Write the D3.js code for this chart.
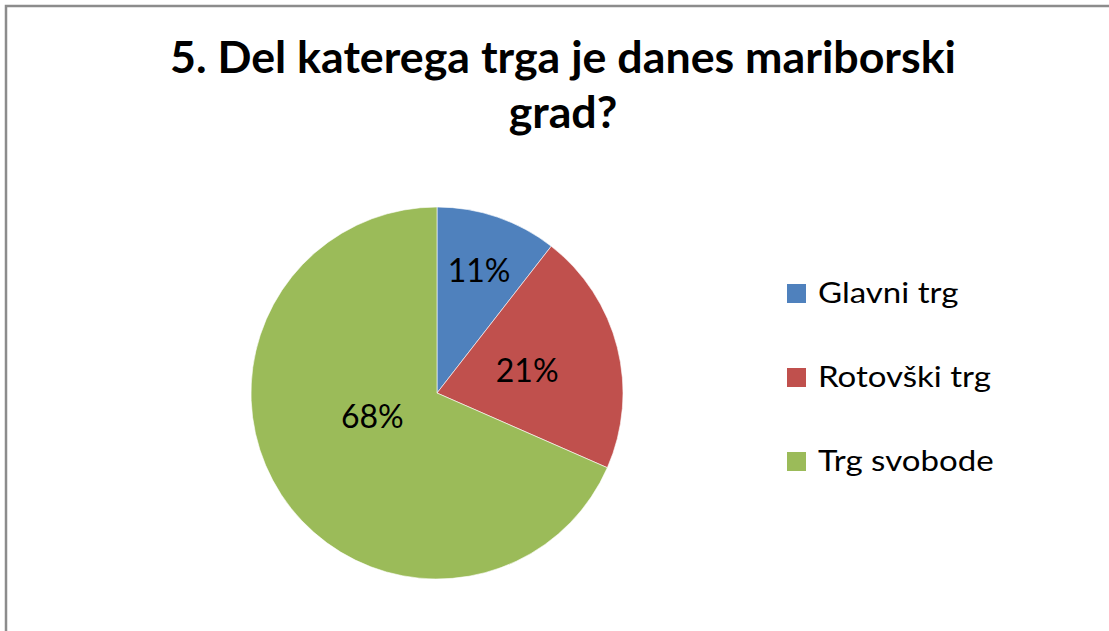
<!DOCTYPE html>
<html>
<head>
<meta charset="utf-8">
<script src="https://d3js.org/d3.v7.min.js"></script>
<style>
  body { margin: 0; background: #fff; }
  svg { display: block; }
</style>
</head>
<body>
<svg></svg>
<script>
// podatki
var categories = ["Glavni trg", "Rotovški trg", "Trg svobode"];
var counts = [6, 12, 39];
var colors = ["#4F81BD", "#C0504D", "#9BBB59"];
var titleLines = ["5. Del katerega trga je danes mariborski", "grad?"];

var width = 1109, height = 631;
var font = "Lato, 'Open Sans', sans-serif";

var svg = d3.select("svg")
  .attr("width", width)
  .attr("height", height);

// okvir
svg.append("rect")
  .attr("x", 6).attr("y", 6)
  .attr("width", width + 20).attr("height", height + 20)
  .attr("fill", "#fff")
  .attr("stroke", "#8c8c8c")
  .attr("stroke-width", 2.5);

// razsiri besedilo vodoravno (Calibri je drugacen od Lato)
function stretch(sel, sx, x) {
  sel.attr("transform", "translate(" + x + ",0) scale(" + sx + ",1) translate(" + (-x) + ",0)");
}

// naslov
var titles = svg.append("g").selectAll("text")
  .data(titleLines)
  .enter().append("text")
  .attr("x", 563)
  .attr("y", function(d, i) { return 73 + i * 55; })
  .attr("text-anchor", "middle")
  .attr("font-family", font)
  .attr("font-weight", "bold")
  .attr("font-size", 43)
  .attr("fill", "#000")
  .text(function(d) { return d; });
var tsx = 786 / titles.node().getComputedTextLength();
stretch(titles, tsx, 563);

// pita
var cx = 437, cy = 393, r = 186;
var total = d3.sum(counts);
var pie = d3.pie().sort(null).value(function(d) { return d; });
var arcs = pie(counts);
var arc = d3.arc().innerRadius(0).outerRadius(r);

var g = svg.append("g").attr("transform", "translate(" + cx + "," + cy + ")");
g.selectAll("path")
  .data(arcs)
  .enter().append("path")
  .attr("d", arc)
  .attr("fill", function(d, i) { return colors[i]; })
  .attr("stroke", "#fff")
  .attr("stroke-width", 0.6);

// oznake - excel jih postavi na razlicne razdalje (best fit)
var labelFactor = [0.697, 0.5, 0.37];
var labelTurn = [0, 0, 13 * Math.PI / 180];
g.selectAll("text")
  .data(arcs)
  .enter().append("text")
  .attr("transform", function(d, i) {
    var a = (d.startAngle + d.endAngle) / 2 + labelTurn[i];
    var lr = r * labelFactor[i];
    return "translate(" + (lr * Math.sin(a)) + "," + (-lr * Math.cos(a) + 11.5) + ")";
  })
  .attr("text-anchor", "middle")
  .attr("font-family", font)
  .attr("font-size", 32)
  .attr("fill", "#000")
  .text(function(d) { return Math.round(d.value / total * 100) + "%"; });

// legenda
var legend = svg.append("g").selectAll("g")
  .data(categories)
  .enter().append("g")
  .attr("transform", function(d, i) { return "translate(787," + (284 + i * 84) + ")"; });
legend.append("rect")
  .attr("width", 19).attr("height", 19)
  .attr("fill", function(d, i) { return colors[i]; });
legend.append("text")
  .attr("x", 31)
  .attr("y", 19)
  .attr("font-family", font)
  .attr("font-size", 28)
  .attr("fill", "#000")
  .attr("transform", "translate(31,0) scale(1.18,1) translate(-31,0)")
  .text(function(d) { return d; });
</script>
</body>
</html>
